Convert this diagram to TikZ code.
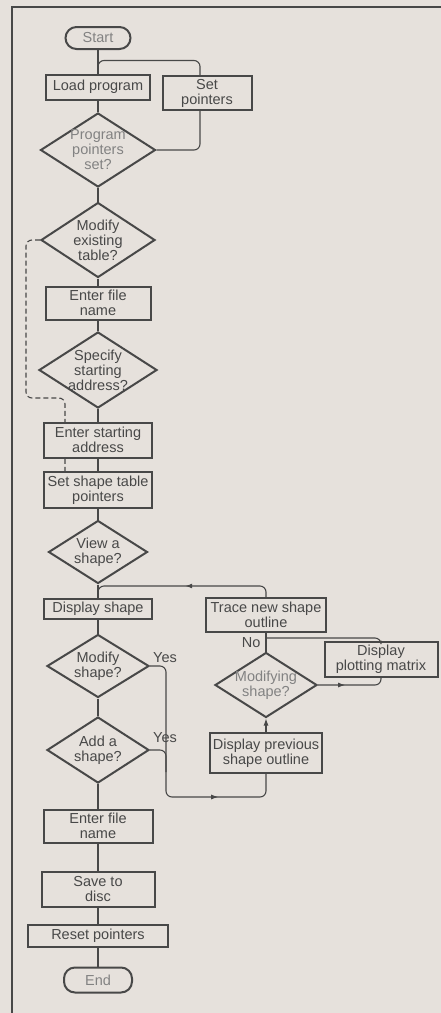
\documentclass[tikz,border=0pt]{standalone}
\usepackage{fontspec}
\setmainfont{Liberation Sans}
\usetikzlibrary{positioning, calc, arrows.meta, shapes.geometric, decorations.markings}
\definecolor{paper}{RGB}{230,225,220}
\definecolor{ink}{RGB}{72,72,72}
\definecolor{inksoft}{RGB}{130,130,130}
\pgfdeclarelayer{back}
\pgfsetlayers{back,main}

\begin{document}
\begin{tikzpicture}[x=1pt, y=-1pt,
  font=\fontsize{14.5}{15}\selectfont, text=ink,
  proc/.style={draw=ink, fill=paper, line width=2pt, align=center, inner sep=1pt},
  decide/.style={diamond, draw=ink, fill=paper, line width=2pt, align=center,
    aspect=1.5, inner sep=-3pt},
  term/.style={draw=ink, line width=2pt, rounded corners=11pt, text=inksoft},
  flow/.style={draw=ink, line width=1.1pt, rounded corners=6pt},
  skipline/.style={flow, dash pattern=on 5pt off 3pt},
  tip/.style={postaction={decorate}, decoration={markings,
    mark=at position #1 with {\arrow{Latex[length=7pt,width=5pt]}}}},
  lbl/.style={inner sep=1pt}
]
  \useasboundingbox (0,0) rectangle (441,1013);
  \begin{pgfonlayer}{back}
    \fill[paper] (0,0) rectangle (441,1013);
  \end{pgfonlayer}
  \draw[ink, line width=2pt] (12,1013) -- (12,7) -- (441,7);

  % main column
  \node[term, minimum width=65pt, minimum height=22pt] (start) at (98,38) {Start};
  \node[proc, minimum width=104pt, minimum height=25pt] (load) at (98,87) {Load program};
  \node[decide, text=inksoft, minimum width=115pt, minimum height=74pt] (progset) at (98,150) {Program\\pointers\\set?};
  \node[decide, minimum width=114pt, minimum height=75pt] (modtab) at (98,240) {Modify\\existing\\table?};
  \node[proc, minimum width=105pt, minimum height=33pt] (file1) at (98,303) {Enter file\\name};
  \node[decide, minimum width=118pt, minimum height=76pt] (spec) at (98,370) {Specify\\starting\\address?};
  \node[proc, minimum width=108pt, minimum height=35pt] (estart) at (98,440) {Enter starting\\address};
  \node[proc, minimum width=108pt, minimum height=36pt] (setshape) at (98,490) {Set shape table\\pointers};
  \node[decide, minimum width=99pt, minimum height=63pt] (view) at (98,552) {View a\\shape?};
  \node[proc, minimum width=108pt, minimum height=20pt] (disp) at (98,609) {Display shape};
  \node[decide, minimum width=102pt, minimum height=63pt] (modsh) at (98,666) {Modify\\shape?};
  \node[decide, minimum width=102pt, minimum height=66pt] (add) at (98,750) {Add a\\shape?};
  \node[proc, minimum width=109pt, minimum height=33pt] (file2) at (98,826) {Enter file\\name};
  \node[proc, minimum width=113pt, minimum height=35pt] (save) at (98,889) {Save to\\disc};
  \node[proc, minimum width=140pt, minimum height=22pt] (reset) at (98,936) {Reset pointers};
  \node[term, minimum width=68pt, minimum height=25pt] (stop) at (98,980) {End};

  % side boxes
  \node[proc, minimum width=89pt, minimum height=34pt] (setp) at (207,93) {Set\\pointers};
  \node[proc, minimum width=120pt, minimum height=34pt] (trace) at (266,615) {Trace new shape\\outline};
  \node[proc, minimum width=113pt, minimum height=35pt] (plot) at (381,659) {Display\\plotting matrix};
  \node[decide, text=inksoft, minimum width=102pt, minimum height=65pt] (modi) at (266,685) {Modifying\\shape?};
  \node[proc, minimum width=112pt, minimum height=40pt] (prev) at (266,753) {Display previous\\shape outline};

  % straight run down the page
  \draw[flow] (start.south) -- (load.north);
  \draw[flow] (load.south) -- (progset.north);
  \draw[flow] (progset.south) -- (modtab.north);
  \draw[flow] (modtab.south) -- (file1.north);
  \draw[flow] (file1.south) -- (spec.north);
  \draw[flow] (spec.south) -- (estart.north);
  \draw[flow] (estart.south) -- (setshape.north);
  \draw[flow] (setshape.south) -- (view.north);
  \draw[flow] (view.south) -- (disp.north);
  \draw[flow] (disp.south) -- (modsh.north);
  \draw[flow] (modsh.south) -- (add.north);
  \draw[flow] (add.south) -- (file2.north);
  \draw[flow] (file2.south) -- (save.north);
  \draw[flow] (save.south) -- (reset.north);
  \draw[flow] (reset.south) -- (stop.north);

  % pointers not set
  \draw[flow] (progset.east) -| ([xshift=-7pt]setp.south);
  \draw[flow] ([xshift=-7pt]setp.north) |- ([yshift=13pt]load.north) -- (load.north);

  % skip to the table pointers
  \begin{pgfonlayer}{back}
    \draw[skipline] (modtab.west) -| (26,398) -| ([xshift=-33pt]setshape.north);
  \end{pgfonlayer}

  % yes branches
  \draw[flow, tip=0.74] (modsh.east) -| (166,797) -| (prev.south);
  \draw[flow] (add.east) -| (166,772);
  \node[lbl] (yes1) at (165,658) {Yes};
  \node[lbl] (yes2) at (165,738) {Yes};

  % shape editing loop
  \draw[flow, -{Latex[length=7pt,width=5pt]}] (prev.north) -- (modi.south);
  \draw[flow] (modi.north) -- node[lbl, left, xshift=-4pt] (no) {No} (trace.south);
  \draw[flow, tip=0.4] (modi.east) -| (plot.south);
  \draw[flow] (plot.north) |- ([yshift=-5pt]trace.south);
  \draw[flow, tip=0.48] (trace.north) |- ([yshift=12pt]disp.north) -- (disp.north);
\end{tikzpicture}
\end{document}
